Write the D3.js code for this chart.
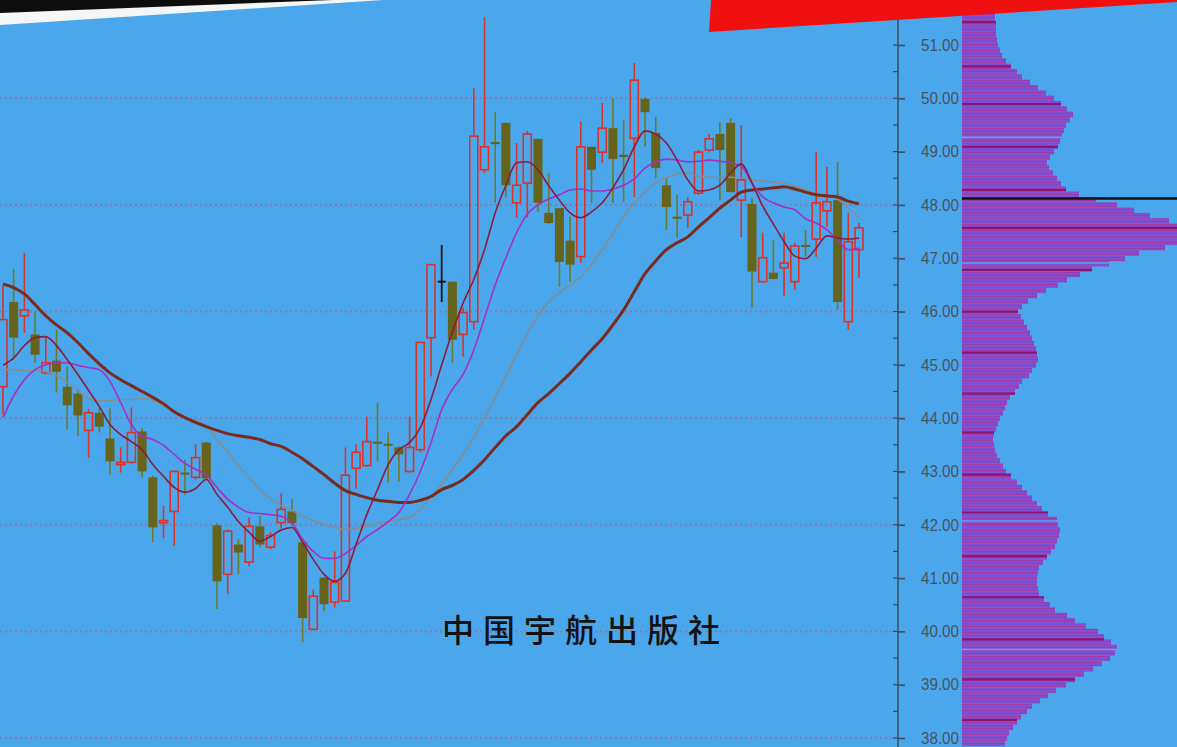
<!DOCTYPE html>
<html><head><meta charset="utf-8">
<script src="https://cdn.jsdelivr.net/npm/d3@7"></script>
<style>html,body{margin:0;padding:0;background:#4ba7ec;overflow:hidden}</style>
</head><body><svg id="c" width="1177" height="747"></svg>
<script>
// ---- data ----
const open = [44.59,46.18,45.92,45.57,44.85,45.08,44.59,44.46,43.77,44.10,
43.62,43.13,43.17,43.75,42.89,42.04,42.25,42.98,42.89,43.54,
41.99,41.07,41.63,41.30,41.97,41.58,42.04,42.25,41.67,40.04,
41.01,40.55,40.57,43.06,43.11,43.56,43.52,43.45,43.00,43.41,
45.51,46.56,46.56,45.57,45.81,48.66,49.18,49.54,48.04,48.41,
49.24,47.85,47.94,47.33,47.03,49.09,48.99,49.44,48.94,49.25,
49.99,49.35,48.37,47.78,47.81,48.22,49.03,49.33,49.54,48.09,
48.02,46.56,46.73,46.82,46.56,47.25,47.36,47.89,48.09,45.81,47.16];
const high = [46.50,46.80,47.10,46.00,45.53,45.66,44.97,44.54,44.18,44.20,
44.18,43.45,44.20,43.82,42.92,42.36,43.02,43.22,43.51,43.56,
42.04,41.91,41.73,42.14,42.16,41.86,42.59,42.48,41.73,40.79,
41.02,41.50,43.45,43.51,44.03,44.29,43.73,43.47,44.03,45.43,
46.88,47.25,46.56,46.07,50.19,51.52,49.74,49.54,49.16,49.39,
49.24,48.60,47.94,47.78,49.57,49.09,49.91,50.00,49.59,50.66,
50.02,49.65,48.52,48.19,48.15,49.03,49.33,49.55,49.63,49.50,
48.13,47.48,47.34,47.48,47.29,47.53,48.99,48.71,48.81,47.85,47.66];
const low = [44.07,45.10,45.60,45.04,44.82,44.48,43.79,43.66,43.26,43.73,
42.94,42.98,43.15,42.89,41.67,41.75,41.60,42.57,42.85,42.85,
40.42,40.70,41.07,41.22,41.58,41.54,41.93,41.99,39.80,40.02,
40.38,40.45,40.55,42.68,43.09,43.19,42.79,42.81,42.98,43.36,
44.78,46.18,45.04,45.15,45.66,48.60,48.04,48.15,47.76,47.76,
47.87,47.64,46.46,46.56,46.91,48.04,48.79,48.04,48.06,48.15,
49.09,48.51,47.53,47.38,47.57,48.19,48.99,48.09,48.24,47.40,
46.07,46.54,46.60,46.28,46.41,47.03,47.03,47.59,46.03,45.66,46.63];
const close = [45.85,45.51,46.03,45.19,45.04,44.87,44.24,44.05,44.10,43.84,
43.19,43.17,43.73,43.00,41.95,42.08,43.00,42.96,43.26,42.87,
40.94,41.88,41.48,41.97,41.63,41.80,42.29,42.03,40.25,40.66,
40.51,40.92,42.93,43.36,43.56,43.52,43.49,43.32,43.45,45.42,
46.88,46.56,45.47,45.98,49.29,49.09,49.14,48.37,48.37,49.33,
48.04,47.66,46.93,46.88,49.09,48.66,49.44,48.86,48.90,50.34,
49.74,48.69,47.96,47.74,48.06,48.99,49.24,49.03,48.24,48.47,
46.75,47.01,46.61,46.91,47.23,47.21,48.04,48.06,46.18,47.31,47.57];

// moving-average lines
const maFast = [44.99,45.13,45.36,45.51,45.53,45.36,45.10,44.82,44.52,44.22,
43.88,43.69,43.56,43.41,43.13,42.91,42.70,42.61,42.68,42.85,
42.57,42.33,42.06,41.86,41.69,41.78,41.90,41.95,41.67,41.35,
41.07,40.94,41.09,41.63,42.19,42.66,43.13,43.41,43.54,43.82,
44.35,45.00,45.62,46.16,46.60,47.16,47.85,48.37,48.79,48.81,
48.66,48.36,48.09,47.85,47.76,47.87,48.04,48.32,48.66,49.09,
49.39,49.33,49.16,48.84,48.47,48.26,48.28,48.37,48.60,48.77,
48.41,47.98,47.64,47.31,47.04,46.99,47.19,47.42,47.38,47.36,47.38];
const maMid = [44.01,44.42,44.72,44.91,45.00,45.04,45.04,44.99,44.95,44.91,
44.69,44.29,43.88,43.66,43.60,43.49,43.32,43.15,43.04,42.93,
42.70,42.48,42.33,42.23,42.21,42.19,42.16,42.03,41.73,41.50,
41.37,41.37,41.46,41.61,41.78,41.91,42.06,42.23,42.57,43.00,
43.54,44.16,44.54,44.82,45.28,45.88,46.50,47.01,47.48,47.83,
48.00,48.11,48.19,48.28,48.30,48.26,48.26,48.30,48.37,48.49,
48.69,48.81,48.86,48.84,48.81,48.82,48.84,48.82,48.79,48.73,
48.41,48.15,48.04,47.96,47.91,47.74,47.66,47.53,47.34,47.16,47.19];
const maLong = [44.91,44.91,44.89,44.89,44.87,44.80,44.67,44.52,44.37,44.33,
44.33,44.35,44.35,44.37,44.33,44.24,44.14,44.01,43.94,43.86,
43.60,43.36,43.11,42.89,42.66,42.49,42.36,42.27,42.16,42.08,
42.01,41.95,41.91,41.93,41.97,42.03,42.06,42.10,42.14,42.29,
42.53,42.76,43.04,43.32,43.64,44.01,44.40,44.78,45.21,45.58,
45.92,46.18,46.35,46.50,46.65,46.88,47.16,47.46,47.78,48.04,
48.24,48.41,48.51,48.58,48.60,48.54,48.52,48.52,48.52,48.51,
48.47,48.45,48.43,48.41,48.36,48.28,48.21,48.17,48.11,47.94,47.76];
const maTrend = [46.52,46.45,46.33,46.13,45.92,45.75,45.60,45.42,45.21,45.02,
44.85,44.72,44.61,44.50,44.39,44.27,44.12,44.01,43.92,43.84,
43.77,43.71,43.67,43.64,43.60,43.52,43.47,43.36,43.24,43.09,
42.94,42.78,42.64,42.57,42.51,42.46,42.44,42.42,42.42,42.46,
42.53,42.66,42.74,42.85,43.02,43.22,43.45,43.67,43.84,44.07,
44.29,44.46,44.65,44.84,45.06,45.28,45.49,45.75,46.03,46.37,
46.71,46.95,47.16,47.29,47.40,47.59,47.76,47.94,48.09,48.24,
48.28,48.30,48.32,48.34,48.30,48.24,48.19,48.17,48.15,48.07,48.02];

// price axis
const yTicks = [38,39,40,41,42,43,44,45,46,47,48,49,50,51];
const gridLevels = [38,40,42,44,46,48,50];

// volume-by-price profile: levels from 51.7 down to 37.9, step 0.1
const profileLevels = [51.7,51.6,51.5,51.4,51.3,51.2,51.1,51.0,50.9,50.8,
50.7,50.6,50.5,50.4,50.3,50.2,50.1,50.0,49.9,49.8,
49.7,49.6,49.5,49.4,49.3,49.2,49.1,49.0,48.9,48.8,
48.7,48.6,48.5,48.4,48.3,48.2,48.1,48.0,47.9,47.8,
47.7,47.6,47.5,47.4,47.3,47.2,47.1,47.0,46.9,46.8,
46.7,46.6,46.5,46.4,46.3,46.2,46.1,46.0,45.9,45.8,
45.7,45.6,45.5,45.4,45.3,45.2,45.1,45.0,44.9,44.8,
44.7,44.6,44.5,44.4,44.3,44.2,44.1,44.0,43.9,43.8,
43.7,43.6,43.5,43.4,43.3,43.2,43.1,43.0,42.9,42.8,
42.7,42.6,42.5,42.4,42.3,42.2,42.1,42.0,41.9,41.8,
41.7,41.6,41.5,41.4,41.3,41.2,41.1,41.0,40.9,40.8,
40.7,40.6,40.5,40.4,40.3,40.2,40.1,40.0,39.9,39.8,
39.7,39.6,39.5,39.4,39.3,39.2,39.1,39.0,38.9,38.8,
38.7,38.6,38.5,38.4,38.3,38.2,38.1,38.0,37.9];
const profileVol = [33,33,33,34,34,34,35,36,38,40,
44,49,55,60,68,76,84,92,99,105,
111,108,104,102,100,98,96,92,88,85,
87,91,95,99,104,117,134,155,172,188,
207,224,229,230,222,203,177,163,147,130,
118,105,96,84,75,66,60,56,59,62,
65,68,70,72,74,75,76,74,70,67,
60,57,53,48,45,43,41,38,36,34,
32,31,32,33,35,38,41,44,49,55,
60,65,70,75,80,86,95,96,98,97,
95,93,89,85,81,77,76,75,75,76,
77,82,88,93,105,113,124,136,142,149,
155,153,148,140,131,122,113,104,94,86,
78,70,65,59,55,51,47,45,43];
const profileMarks = [51.43,50.60,49.89,49.09,48.28,47.57,46.78,46.00,45.23,44.46,43.73,42.94,42.23,41.41,40.64,39.85,39.10,38.34];
const profileGaps = [49.27,46.91,42.07,39.66];
const lastPrice = 48.12;
const publisher = "中国宇航出版社";

// ---- drawing ----
const W = 1177, H = 747;
const BG = "#4ba7ec";
const svg = d3.select("#c");
svg.append("rect").attr("width", W).attr("height", H).attr("fill", BG);

const x = d3.scaleLinear().domain([0, open.length - 1]).range([3, 859]);
const y = d3.scaleLinear().domain([38, 51]).range([738, 45]);
const xv = d3.scaleLinear().domain([0, 215]).range([962, 1177]);

// stripe pattern for the profile bars
const defs = svg.append("defs");
const pat = defs.append("pattern").attr("id", "stripes").attr("patternUnits", "userSpaceOnUse")
  .attr("width", 8).attr("height", 3);
pat.append("rect").attr("width", 8).attr("height", 3).attr("fill", "#8150d2");
pat.append("rect").attr("y", 2).attr("width", 8).attr("height", 1).attr("fill", "#a23aa6");

// dotted grid
svg.append("g").selectAll("line").data(gridLevels).join("line")
  .attr("x1", 0).attr("x2", 893)
  .attr("y1", d => y(d)).attr("y2", d => y(d))
  .attr("stroke", "#8f78a2").attr("stroke-width", 2).attr("stroke-dasharray", "2,3");

// candles
const RED = "#da3328", OLIVE = "#66641c", OLIVE_W = "#6c7a26", BLACK = "#151515";
const bodyW = 8;
const cg = svg.append("g");
open.forEach((o, i) => {
  const c = close[i], h = high[i], l = low[i];
  const cx = x(i);
  const top = Math.max(o, c), bot = Math.min(o, c);
  if (c > o) {
    cg.append("line").attr("x1", cx).attr("x2", cx).attr("y1", y(h)).attr("y2", y(top))
      .attr("stroke", RED).attr("stroke-width", 1.6);
    cg.append("line").attr("x1", cx).attr("x2", cx).attr("y1", y(bot)).attr("y2", y(l))
      .attr("stroke", RED).attr("stroke-width", 1.6);
    cg.append("rect").attr("x", cx - bodyW / 2).attr("y", y(top))
      .attr("width", bodyW).attr("height", Math.max(1, y(bot) - y(top)))
      .attr("fill", "none").attr("stroke", RED).attr("stroke-width", 1.6);
  } else if (c < o) {
    cg.append("line").attr("x1", cx).attr("x2", cx).attr("y1", y(h)).attr("y2", y(l))
      .attr("stroke", OLIVE_W).attr("stroke-width", 1.6);
    cg.append("rect").attr("x", cx - bodyW / 2 - 0.5).attr("y", y(top))
      .attr("width", bodyW + 1).attr("height", Math.max(2, y(bot) - y(top)))
      .attr("fill", OLIVE);
  } else {
    cg.append("line").attr("x1", cx).attr("x2", cx).attr("y1", y(h)).attr("y2", y(l))
      .attr("stroke", BLACK).attr("stroke-width", 1.8);
    cg.append("line").attr("x1", cx - bodyW / 2).attr("x2", cx + bodyW / 2)
      .attr("y1", y(o)).attr("y2", y(o)).attr("stroke", BLACK).attr("stroke-width", 2);
  }
});

// moving averages
const lineGen = d3.line().x((d, i) => x(i)).y(d => y(d)).curve(d3.curveMonotoneX);
const maStyles = [
  {data: maLong, color: "#878c8e", w: 1.6},
  {data: maTrend, color: "#7a2a1e", w: 3},
  {data: maMid, color: "#a331c4", w: 1.6},
  {data: maFast, color: "#8c1d3c", w: 1.6}
];
maStyles.forEach(s => {
  svg.append("path").attr("d", lineGen(s.data)).attr("fill", "none")
    .attr("stroke", s.color).attr("stroke-width", s.w).attr("stroke-linejoin", "round");
});

// price axis
const axisX = 898;
svg.append("line").attr("x1", axisX).attr("x2", axisX).attr("y1", 0).attr("y2", H)
  .attr("stroke", "#3e4a58").attr("stroke-width", 1.5);
const axis = d3.axisRight(y).tickValues(yTicks).tickSize(7).tickFormat(d3.format(".2f"));
const ag = svg.append("g").attr("transform", `translate(${axisX},0)`).call(axis);
ag.select(".domain").remove();
ag.selectAll(".tick line").attr("stroke", "#3e4a58").attr("stroke-width", 1.5);
ag.selectAll(".tick text")
  .attr("x", 61).attr("dy", "0.33em").attr("text-anchor", "end")
  .attr("fill", "#4a5260").attr("font-family", "Liberation Sans, Arial, sans-serif")
  .attr("font-size", 16).attr("textLength", 38).attr("lengthAdjust", "spacingAndGlyphs");
// minor ticks
svg.append("g").selectAll("line").data(yTicks.map(v => v + 0.5).filter(v => v < 51.6)).join("line")
  .attr("x1", axisX - 5).attr("x2", axisX).attr("y1", d => y(d)).attr("y2", d => y(d))
  .attr("stroke", "#3e4a58").attr("stroke-width", 1.2);
svg.append("g").selectAll("line").data(yTicks).join("line")
  .attr("x1", axisX - 5).attr("x2", axisX).attr("y1", d => y(d)).attr("y2", d => y(d))
  .attr("stroke", "#3e4a58").attr("stroke-width", 1.2);

// volume-by-price profile
const half = 0.05;
const volAt = p => {
  let k = 0, best = 1e9;
  profileLevels.forEach((lv, j) => { const dd = Math.abs(lv - p); if (dd < best) { best = dd; k = j; } });
  return profileVol[k];
};
svg.append("g").selectAll("rect").data(profileLevels).join("rect")
  .attr("x", xv(0))
  .attr("y", d => y(d + half))
  .attr("width", (d, i) => xv(profileVol[i]) - xv(0))
  .attr("height", d => y(d - half) - y(d + half) + 0.2)
  .attr("fill", "url(#stripes)");
svg.append("g").selectAll("line").data(profileMarks).join("line")
  .attr("x1", xv(0)).attr("x2", d => xv(volAt(d)))
  .attr("y1", d => y(d)).attr("y2", d => y(d))
  .attr("stroke", "#8a1670").attr("stroke-width", 2.2);
svg.append("g").selectAll("line").data(profileGaps).join("line")
  .attr("x1", xv(0)).attr("x2", d => xv(volAt(d)))
  .attr("y1", d => y(d)).attr("y2", d => y(d))
  .attr("stroke", "#58a6ee").attr("stroke-width", 1.6);
svg.append("line").attr("x1", xv(0)).attr("x2", W)
  .attr("y1", y(lastPrice)).attr("y2", y(lastPrice))
  .attr("stroke", "#111").attr("stroke-width", 2.6);

// publisher text
svg.append("text").attr("x", 442).attr("y", 642)
  .attr("font-family", "Noto Sans CJK SC, sans-serif").attr("font-weight", 500)
  .attr("font-size", 32).attr("letter-spacing", 9).attr("fill", "#121212")
  .text(publisher);

// cover decorations (photo edges)
svg.append("path").attr("d", "M0,0 L383,0 L0,25 Z").attr("fill", "#f4f6f8");
svg.append("path").attr("d", "M0,0 L333,0 L0,13 Z").attr("fill", "#0d0d0d");
svg.append("path").attr("d", "M711,0 L1177,0 L1177,2 L709,32 Z").attr("fill", "#f01010");
</script></body></html>
